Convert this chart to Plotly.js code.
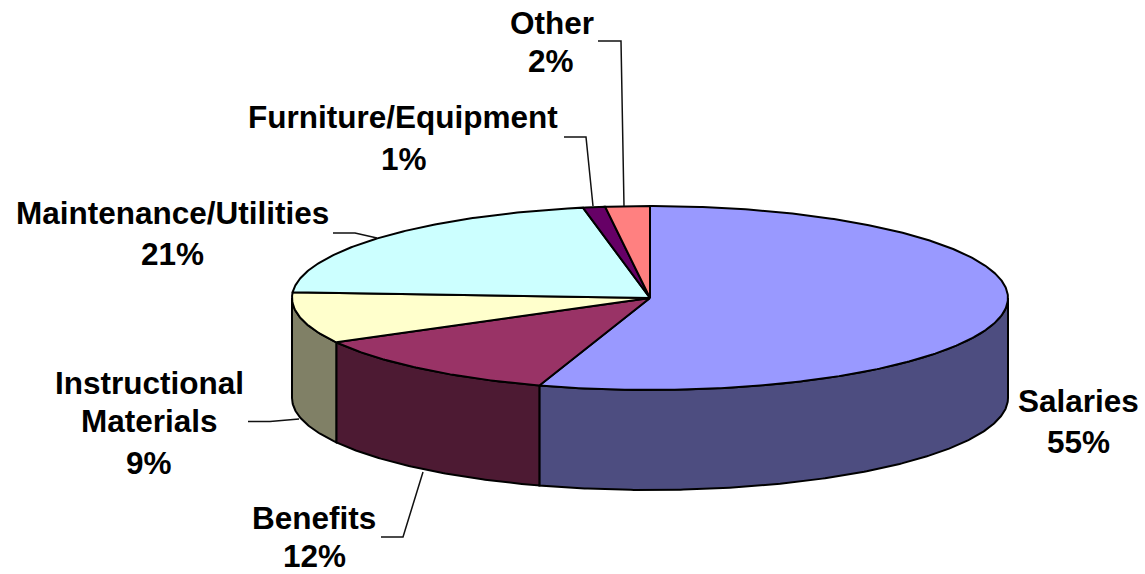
<!DOCTYPE html>
<html>
<head>
<meta charset="utf-8">
<script src="https://cdn.plot.ly/plotly-3.0.1.min.js"></script>
<style>html,body{margin:0;padding:0;background:#fff}#chart{width:1145px;height:574px}</style>
</head>
<body>
<div id="chart"></div>
<script>
const categories = ['Salaries', 'Benefits', 'Instructional Materials', 'Maintenance/Utilities', 'Furniture/Equipment', 'Other'];
const values = [55, 12, 9, 21, 1, 2];

const topColors = ['#9999FF', '#993366', '#FFFFCC', '#CCFFFF', '#660066', '#FF8080'];
const sideColors = ['#4D4D80', '#4D1A33', '#808066', '#668080', '#330033', '#804040'];

// Projection of the tilted disc, in pixel-like axis units
const cx = 650, cy = 298, rx = 358, ry = 92, depth = 100;

// Label lines: text, centre x, centre y
const labelLines = [
  ['Other', 552, 23], ['2%', 551, 61],
  ['Furniture/Equipment', 403, 117], ['1%', 404, 159],
  ['Maintenance/Utilities', 172, 213], ['21%', 172, 254],
  ['Instructional', 149, 383], ['Materials', 149, 421], ['9%', 149, 463],
  ['Benefits', 314, 518], ['12%', 314, 556],
  ['Salaries', 1078, 401], ['55%', 1078, 442]
];
// Leader lines
const leaders = [
  [[598, 621, 624], [41, 41, 206]],
  [[564, 586, 593], [137, 137, 206]],
  [[333, 355, 377], [233, 233, 238]],
  [[248, 270, 299], [421.5, 421.5, 419]],
  [[381, 403, 423], [537, 537, 472]]
];

const total = values.reduce((a, b) => a + b, 0);
const rad = d => d * Math.PI / 180;
const px = t => cx + rx * Math.sin(rad(t));
const py = t => cy - ry * Math.cos(rad(t));

function arc(a, b) {
  const xs = [], ys = [], n = Math.max(2, Math.ceil(Math.abs(b - a) * 2));
  for (let i = 0; i <= n; i++) {
    const t = a + (b - a) * i / n;
    xs.push(px(t)); ys.push(py(t));
  }
  return [xs, ys];
}

const edge = {color: '#000', width: 2};
const base = {type: 'scatter', mode: 'lines', hoverinfo: 'skip', showlegend: false, fill: 'toself', line: edge};

const wallTraces = [], topTraces = [];
let acc = 0;
values.forEach((v, i) => {
  const a = acc / total * 360, b = (acc + v) / total * 360;
  acc += v;
  const a2 = Math.max(a, 90), b2 = Math.min(b, 270);
  if (b2 > a2) {
    const [xs, ys] = arc(a2, b2);
    wallTraces.push(Object.assign({}, base, {
      x: xs.concat(xs.slice().reverse(), [xs[0]]),
      y: ys.concat(ys.slice().reverse().map(y => y + depth), [ys[0]]),
      fillcolor: sideColors[i]
    }));
  }
  const [xs, ys] = arc(a, b);
  topTraces.push(Object.assign({}, base, {
    x: [cx].concat(xs, [cx]),
    y: [cy].concat(ys, [cy]),
    fillcolor: topColors[i]
  }));
});

const leaderTraces = leaders.map(l => ({
  type: 'scatter', mode: 'lines', x: l[0], y: l[1],
  hoverinfo: 'skip', showlegend: false, line: {color: '#111', width: 1.5}
}));

const annotations = labelLines.map(l => ({
  text: '<b>' + l[0] + '</b>', x: l[1], y: l[2], xref: 'x', yref: 'y',
  showarrow: false, xanchor: 'center', yanchor: 'middle',
  font: {family: '"Liberation Sans", Arial, sans-serif', size: 31.5, color: '#000'}
}));

const hidden = {visible: false, showgrid: false, zeroline: false, fixedrange: true};
const layout = {
  width: 1145, height: 574,
  margin: {l: 0, r: 0, t: 0, b: 0},
  paper_bgcolor: '#fff', plot_bgcolor: '#fff',
  xaxis: Object.assign({range: [0, 1145]}, hidden),
  yaxis: Object.assign({range: [574, 0]}, hidden),
  annotations: annotations,
  showlegend: false
};
Plotly.newPlot('chart', wallTraces.concat(topTraces, leaderTraces), layout, {staticPlot: true, displayModeBar: false});
</script>
</body>
</html>
